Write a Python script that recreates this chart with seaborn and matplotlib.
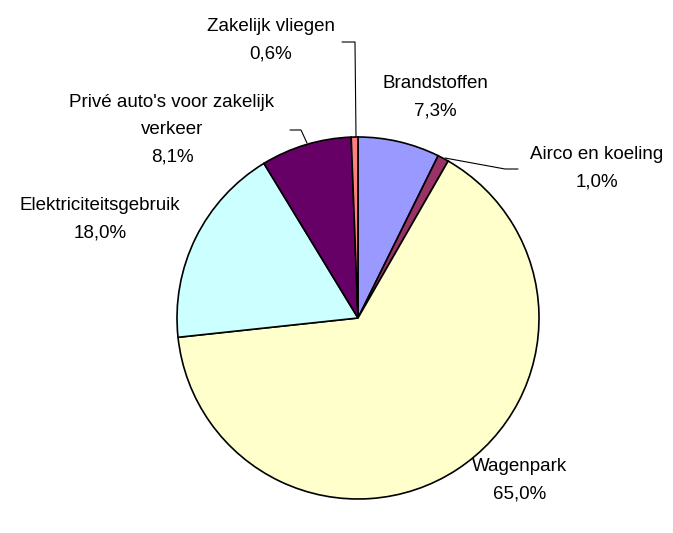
import matplotlib
matplotlib.use("Agg")
import matplotlib.pyplot as plt
import seaborn as sns

labels = ["Brandstoffen", "Airco en koeling", "Wagenpark", "Elektriciteitsgebruik",
          "Privé auto's voor zakelijk\nverkeer", "Zakelijk vliegen"]
values = [7.3, 1.0, 65.0, 18.0, 8.1, 0.6]
colors = ["#9999FF", "#993366", "#FFFFCC", "#CCFFFF", "#660066", "#FF8080"]

sns.set_theme(style="white")
plt.rcParams["font.family"] = ["Liberation Sans", "DejaVu Sans"]

fig = plt.figure(figsize=(6.73, 5.33), dpi=100)
ax = fig.add_axes([0, 0, 1, 1])

# pie drawn in pixel space (y flipped, so go counterclockwise to get clockwise on screen)
ax.pie(values, colors=colors, startangle=-90, counterclock=True,
       center=(358, 318), radius=181, frame=True,
       wedgeprops=dict(edgecolor="black", linewidth=1.2))
ax.set_xlim(0, 673)
ax.set_ylim(533, 0)
ax.set_aspect("equal")
ax.axis("off")

# label positions (pixel coords of text centre)
pos = [(435, 97), (597, 168), (520, 480), (100, 219), (172, 130), (271, 40)]
for lab, v, (x, y) in zip(labels, values, pos):
    txt = lab + "\n" + f"{v:.1f}%".replace(".", ",")
    ax.text(x, y, txt, ha="center", va="center", fontsize=13.5,
            linespacing=1.8, color="black")

# leader lines
ax.plot([342, 355, 356], [42, 42, 137], color="black", lw=0.8)
ax.plot([445, 505, 518], [158, 169, 169], color="black", lw=0.8)
ax.plot([290, 301, 307], [130, 130, 143], color="black", lw=0.8)

fig.savefig("out.png", dpi=100)
